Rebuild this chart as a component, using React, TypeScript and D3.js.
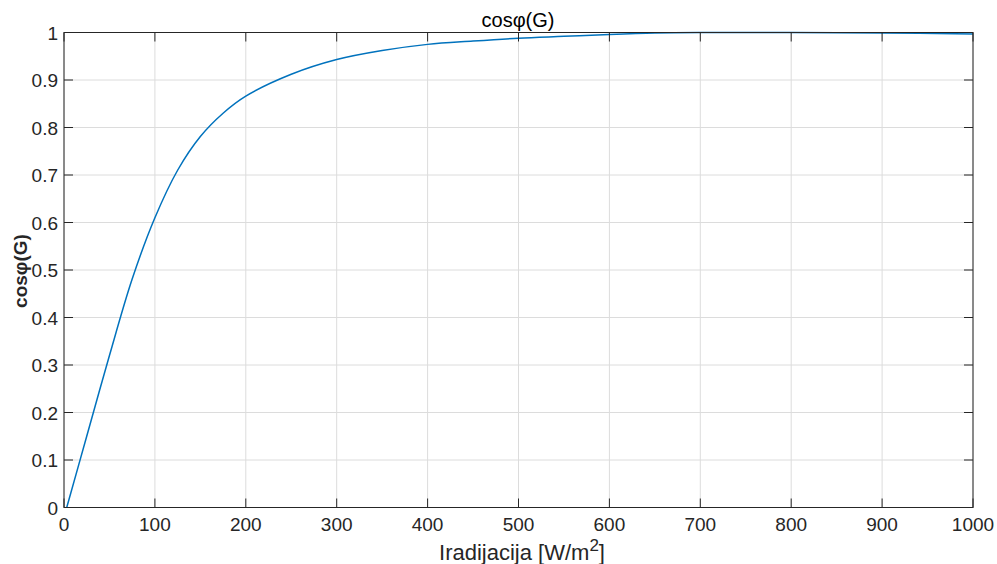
import React from "react";
import * as d3 from "d3";

const irradiance = [3, 25, 50, 75, 100, 125, 150, 175, 200, 250, 300, 350, 400, 450, 500, 550, 600, 650, 700, 800, 900, 1000];
const cosPhi = [0, 0.15, 0.32, 0.481, 0.61, 0.71, 0.781, 0.83, 0.866, 0.912, 0.943, 0.962, 0.975, 0.982, 0.988, 0.992, 0.996, 0.999, 1.0, 1.0, 0.999, 0.997];
const xTicks = [0, 100, 200, 300, 400, 500, 600, 700, 800, 900, 1000];
const yTicks = [0, 0.1, 0.2, 0.3, 0.4, 0.5, 0.6, 0.7, 0.8, 0.9, 1];

export default function App() {
  const W = 997, H = 564;
  const L = 64, R = 973, T = 32.5, B = 507.5;
  const x = d3.scaleLinear().domain([0, 1000]).range([L, R]);
  const y = d3.scaleLinear().domain([0, 1]).range([B, T]);
  const data = irradiance.map((g, i) => [g, cosPhi[i]] as [number, number]);
  const line = d3.line<[number, number]>().x(d => x(d[0])).y(d => y(d[1])).curve(d3.curveCatmullRom.alpha(0.5));
  const axisColor = "#262626";
  const font = "'Liberation Sans', Arial, sans-serif";
  const tl = 9;
  return (
    <svg width={W} height={H} style={{ position: "absolute", left: 0, top: 0, background: "#fff" }} fontFamily={font}>
      <rect x={0} y={0} width={W} height={H} fill="#fff" />
      {xTicks.map(t => (
        <line key={"gx" + t} x1={x(t)} x2={x(t)} y1={T} y2={B} stroke="#dcdcdc" strokeWidth={1} />
      ))}
      {yTicks.map(t => (
        <line key={"gy" + t} x1={L} x2={R} y1={y(t)} y2={y(t)} stroke="#dcdcdc" strokeWidth={1} />
      ))}
      <path d={line(data) || ""} fill="none" stroke="#0072BD" strokeWidth={1.5} />
      <rect x={L} y={T} width={R - L} height={B - T} fill="none" stroke={axisColor} strokeWidth={1} />
      {xTicks.map(t => (
        <g key={"tx" + t}>
          <line x1={x(t)} x2={x(t)} y1={B} y2={B - tl} stroke={axisColor} />
          <line x1={x(t)} x2={x(t)} y1={T} y2={T + tl} stroke={axisColor} />
          <text x={x(t)} y={531} textAnchor="middle" fontSize={19} fill={axisColor}>{t}</text>
        </g>
      ))}
      {yTicks.map(t => (
        <g key={"ty" + t}>
          <line x1={L} x2={L + tl} y1={y(t)} y2={y(t)} stroke={axisColor} />
          <line x1={R} x2={R - tl} y1={y(t)} y2={y(t)} stroke={axisColor} />
          <text x={58} y={y(t) + 7} textAnchor="end" fontSize={19} fill={axisColor}>{t}</text>
        </g>
      ))}
      <text x={518} y={27} textAnchor="middle" fontSize={20} fill="#000">cosφ(G)</text>
      <text x={522} y={560} textAnchor="middle" fontSize={22} fill={axisColor}>
        Iradijacija [W/m<tspan dy={-9} fontSize={17}>2</tspan><tspan dy={9}>]</tspan>
      </text>
      <text transform={`translate(27,271) rotate(-90)`} textAnchor="middle" fontSize={19} fontWeight="bold" fill={axisColor}>cosφ(G)</text>
    </svg>
  );
}
